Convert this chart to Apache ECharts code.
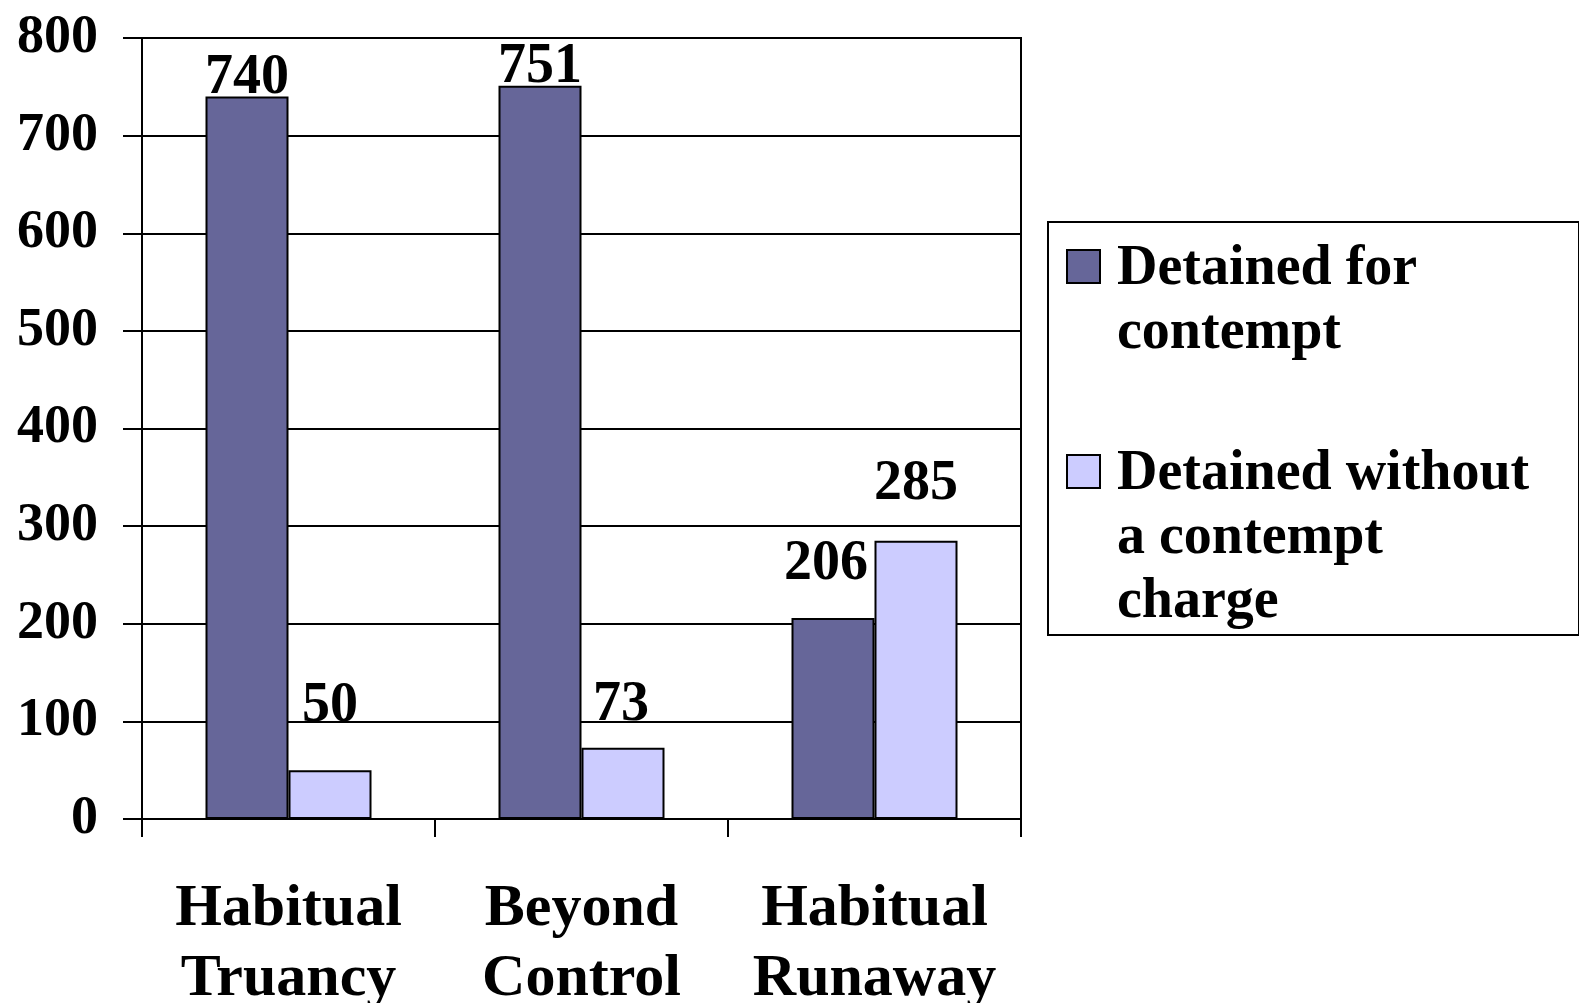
<!DOCTYPE html>
<html>
<head>
<meta charset="utf-8">
<script src="https://cdn.jsdelivr.net/npm/echarts@6/dist/echarts.min.js"></script>
<style>
  html, body { margin: 0; padding: 0; background: #fff; }
  #chart { width: 1579px; height: 1003px; }
</style>
</head>
<body>
<div id="chart"></div>
<script>
const categories = ['Habitual\nTruancy', 'Beyond\nControl', 'Habitual\nRunaway']
const seriesNames = ['Detained for\ncontempt', 'Detained without\na contempt\ncharge']
const withContempt = [740, 751, 206]
const withoutContempt = [50, 73, 285]
const yTicks = [0, 100, 200, 300, 400, 500, 600, 700, 800]

// label placement, in px above the bar top (hand placed in the original)
const liftA = [-10, -10, 25]
const liftB = [36, 14, 28]
const shiftA = [0, 0, -7]
const shiftB = [0, -2, 0]

const font = '"Liberation Serif", "Times New Roman", serif'

// legend icon: square at the top of a tall box so it sits on the first text line
const legendIcon = 'path://M0,0 h33 v33 h-33 Z M0,168'

function labelled(values, lift, shift) {
  return values.map((v, i) => ({
    value: v,
    label: { distance: lift[i], offset: [shift[i], 0] }
  }))
}

const barLabel = {
  show: true,
  position: 'top',
  color: '#000',
  fontFamily: font,
  fontWeight: 'bold',
  fontSize: 56
}

const chart = echarts.init(document.getElementById('chart'))

chart.setOption({
  animation: false,
  backgroundColor: '#fff',
  textStyle: { fontFamily: font },
  grid: {
    left: 142,
    right: 558,
    top: 38,
    bottom: 184,
    outerBoundsMode: 'none',
    show: true,
    borderColor: '#000',
    borderWidth: 2
  },
  legend: {
    orient: 'vertical',
    left: 1048,
    top: 222,
    padding: [16, 12, 0, 18],
    itemGap: 13,
    itemWidth: 33,
    itemHeight: 168,
    icon: legendIcon,
    borderColor: '#000',
    borderWidth: 2,
    backgroundColor: '#fff',
    selectedMode: false,
    // pad the two-line entry to three lines so both entries line up the same way
    formatter: name => name.split('\n').length < 3 ? name + '\n\u00a0' : name,
    textStyle: {
      fontFamily: font,
      fontWeight: 'bold',
      fontSize: 56,
      lineHeight: 64,
      color: '#000',
      width: 450,
      padding: [0, 0, 0, 12]
    },
    data: seriesNames
  },
  xAxis: {
    type: 'category',
    data: categories,
    axisLine: { lineStyle: { color: '#000', width: 2 } },
    axisTick: { show: true, interval: 0, length: 18, lineStyle: { color: '#000', width: 2 } },
    axisLabel: {
      interval: 0,
      margin: 55,
      color: '#000',
      fontFamily: font,
      fontWeight: 'bold',
      fontSize: 60,
      lineHeight: 70
    }
  },
  yAxis: {
    type: 'value',
    min: yTicks[0],
    max: yTicks[yTicks.length - 1],
    interval: yTicks[1] - yTicks[0],
    axisLine: { show: true, lineStyle: { color: '#000', width: 2 } },
    axisTick: { show: true, length: 19, lineStyle: { color: '#000', width: 2 } },
    splitLine: { lineStyle: { color: '#000', width: 2 } },
    axisLabel: {
      margin: 44,
      color: '#000',
      fontFamily: font,
      fontWeight: 'bold',
      fontSize: 54
    }
  },
  series: [
    {
      name: seriesNames[0],
      type: 'bar',
      barWidth: 83,
      barGap: 0,
      data: labelled(withContempt, liftA, shiftA),
      itemStyle: { color: '#666699', borderColor: '#000', borderWidth: 2 },
      label: barLabel
    },
    {
      name: seriesNames[1],
      type: 'bar',
      barWidth: 83,
      barGap: 0,
      data: labelled(withoutContempt, liftB, shiftB),
      itemStyle: { color: '#CCCCFF', borderColor: '#000', borderWidth: 2 },
      label: barLabel
    }
  ]
})
</script>
</body>
</html>
